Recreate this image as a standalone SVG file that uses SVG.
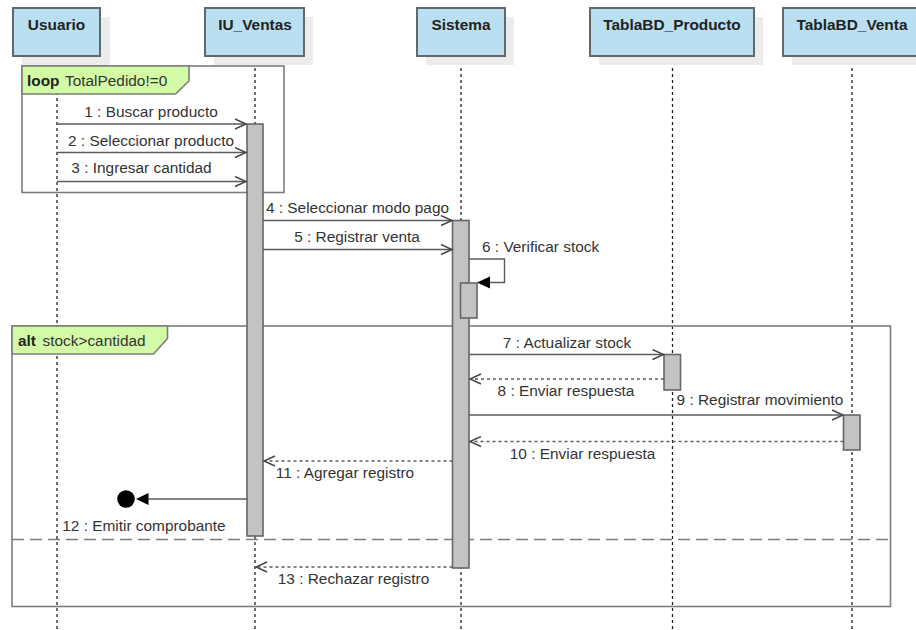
<svg xmlns="http://www.w3.org/2000/svg" width="916" height="630" viewBox="0 0 916 630">
<defs>
<style>
text{font-family:"Liberation Sans",Arial,sans-serif;font-size:15.4px;fill:#333}
.hd{font-weight:bold;fill:#222;text-anchor:middle}
.m{text-anchor:middle}
.sh{fill:#ececec}
.box{fill:#b9dff1;stroke:#5f6a6f;stroke-width:2}
.life{stroke:#222;stroke-width:1.3;stroke-dasharray:3 3;fill:none}
.act{fill:#c3c3c3;stroke:#666;stroke-width:1.6}
.frame{fill:none;stroke:#7c7c7c;stroke-width:1.6}
.tab{fill:#d3fba6;stroke:#7c7c7c;stroke-width:1.6}
.msg{stroke:#5c5c5c;stroke-width:1.4;fill:none}
.ret{stroke:#5c5c5c;stroke-width:1.4;stroke-dasharray:3 3;fill:none}
</style>
<marker id="open" markerUnits="userSpaceOnUse" markerWidth="14" markerHeight="12" refX="11" refY="5" orient="auto" viewBox="-1 -1 14 12">
<path d="M0,0 L11,5 L0,10" fill="none" stroke="#444" stroke-width="1.4"/>
</marker>
</defs>

<g id="lifelines">
<line class="life" x1="57" y1="56" x2="57" y2="630"/>
<line class="life" x1="255" y1="56" x2="255" y2="630"/>
<line class="life" x1="461" y1="56" x2="461" y2="630"/>
<line class="life" x1="672.5" y1="56" x2="672.5" y2="630"/>
<line class="life" x1="852" y1="56" x2="852" y2="630"/>
</g>

<g id="Usuario">
<rect class="sh" x="22" y="17" width="88" height="48"/>
<rect class="box" x="13" y="8" width="87" height="48"/>
<text class="hd" x="56.5" y="29.5">Usuario</text>
</g>
<g id="IU_Ventas">
<rect class="sh" x="214" y="17" width="99" height="48"/>
<rect class="box" x="205" y="8" width="99" height="48"/>
<text class="hd" x="255" y="29.5">IU_Ventas</text>
</g>
<g id="Sistema">
<rect class="sh" x="426" y="17" width="88" height="48"/>
<rect class="box" x="417" y="8" width="88" height="48"/>
<text class="hd" x="461" y="29.5">Sistema</text>
</g>
<g id="TablaBD_Producto">
<rect class="sh" x="599" y="17" width="164" height="48"/>
<rect class="box" x="590" y="8" width="164" height="48"/>
<text class="hd" x="672" y="29.5">TablaBD_Producto</text>
</g>
<g id="TablaBD_Venta">
<rect class="sh" x="792" y="17" width="138" height="48"/>
<rect class="box" x="783" y="8" width="138" height="48"/>
<text class="hd" x="852" y="29.5">TablaBD_Venta</text>
</g>

<g id="loop">
<rect class="frame" x="22" y="66" width="262" height="126.5"/>
<path class="tab" d="M22,66 H189 V81 L175.5,94 H22 Z"/>
<text x="27" y="86" style="font-weight:bold;fill:#222">loop</text>
<text x="65" y="86">TotalPedido!=0</text>
</g>

<g id="alt">
<rect class="frame" x="12" y="326" width="878.5" height="280.5"/>
<path class="tab" d="M12,326 H167.5 V338.5 L153.5,354 H12 Z"/>
<text x="18" y="345.5" style="font-weight:bold;fill:#222">alt</text>
<text x="42.5" y="345.5">stock&gt;cantidad</text>
<line x1="12" y1="539.5" x2="890" y2="539.5" stroke="#7c7c7c" stroke-width="1.6" stroke-dasharray="12 6"/>
</g>

<g id="activations">
<rect class="act" x="247" y="124" width="16" height="412"/>
<rect class="act" x="452.5" y="220.5" width="16.5" height="347.5"/>
<rect class="act" x="460.5" y="283" width="16.5" height="35"/>
<rect class="act" x="664" y="354.5" width="16.5" height="35.5"/>
<rect class="act" x="843.5" y="415" width="16.5" height="35"/>
</g>

<g id="connectors">
<line class="msg" x1="57" y1="124" x2="246" y2="124" marker-end="url(#open)"/>
<line class="msg" x1="57" y1="152.5" x2="246" y2="152.5" marker-end="url(#open)"/>
<line class="msg" x1="57" y1="181.5" x2="246" y2="181.5" marker-end="url(#open)"/>
<line class="msg" x1="263" y1="220.5" x2="452" y2="220.5" marker-end="url(#open)"/>
<line class="msg" x1="263" y1="249.5" x2="452" y2="249.5" marker-end="url(#open)"/>
<path class="msg" d="M469,259 H504.5 V282.5 H489"/>
<path d="M477,282.5 L490,276.5 L490,288.5 Z" fill="#000"/>
<line class="msg" x1="469" y1="354.5" x2="663.5" y2="354.5" marker-end="url(#open)"/>
<line class="ret" x1="664" y1="379" x2="470" y2="379" marker-end="url(#open)"/>
<line class="msg" x1="469" y1="415" x2="843" y2="415" marker-end="url(#open)"/>
<line class="ret" x1="843.5" y1="441.5" x2="470" y2="441.5" marker-end="url(#open)"/>
<line class="ret" x1="452.5" y1="461" x2="264" y2="461" marker-end="url(#open)"/>
<line class="msg" x1="247" y1="499" x2="148" y2="499"/>
<path d="M136,499 L148.5,493 L148.5,505 Z" fill="#000"/>
<circle cx="126" cy="499" r="8.8" fill="#000"/>
<line class="ret" x1="452.5" y1="567" x2="256" y2="567" marker-end="url(#open)"/>
</g>

<g id="labels">
<text class="m" x="151" y="117">1 : Buscar producto</text>
<text class="m" x="151" y="146">2 : Seleccionar producto</text>
<text class="m" x="141.5" y="173">3 : Ingresar cantidad</text>
<text class="m" x="357.5" y="213">4 : Seleccionar modo pago</text>
<text class="m" x="357" y="242">5 : Registrar venta</text>
<text x="482" y="252">6 : Verificar stock</text>
<text class="m" x="567" y="348">7 : Actualizar stock</text>
<text class="m" x="566" y="396">8 : Enviar respuesta</text>
<text class="m" x="760" y="405">9 : Registrar movimiento</text>
<text class="m" x="582.5" y="458.5">10 : Enviar respuesta</text>
<text class="m" x="345" y="477.5">11 : Agregar registro</text>
<text class="m" x="144" y="531">12 : Emitir comprobante</text>
<text class="m" x="353.5" y="584">13 : Rechazar registro</text>
</g>
</svg>
